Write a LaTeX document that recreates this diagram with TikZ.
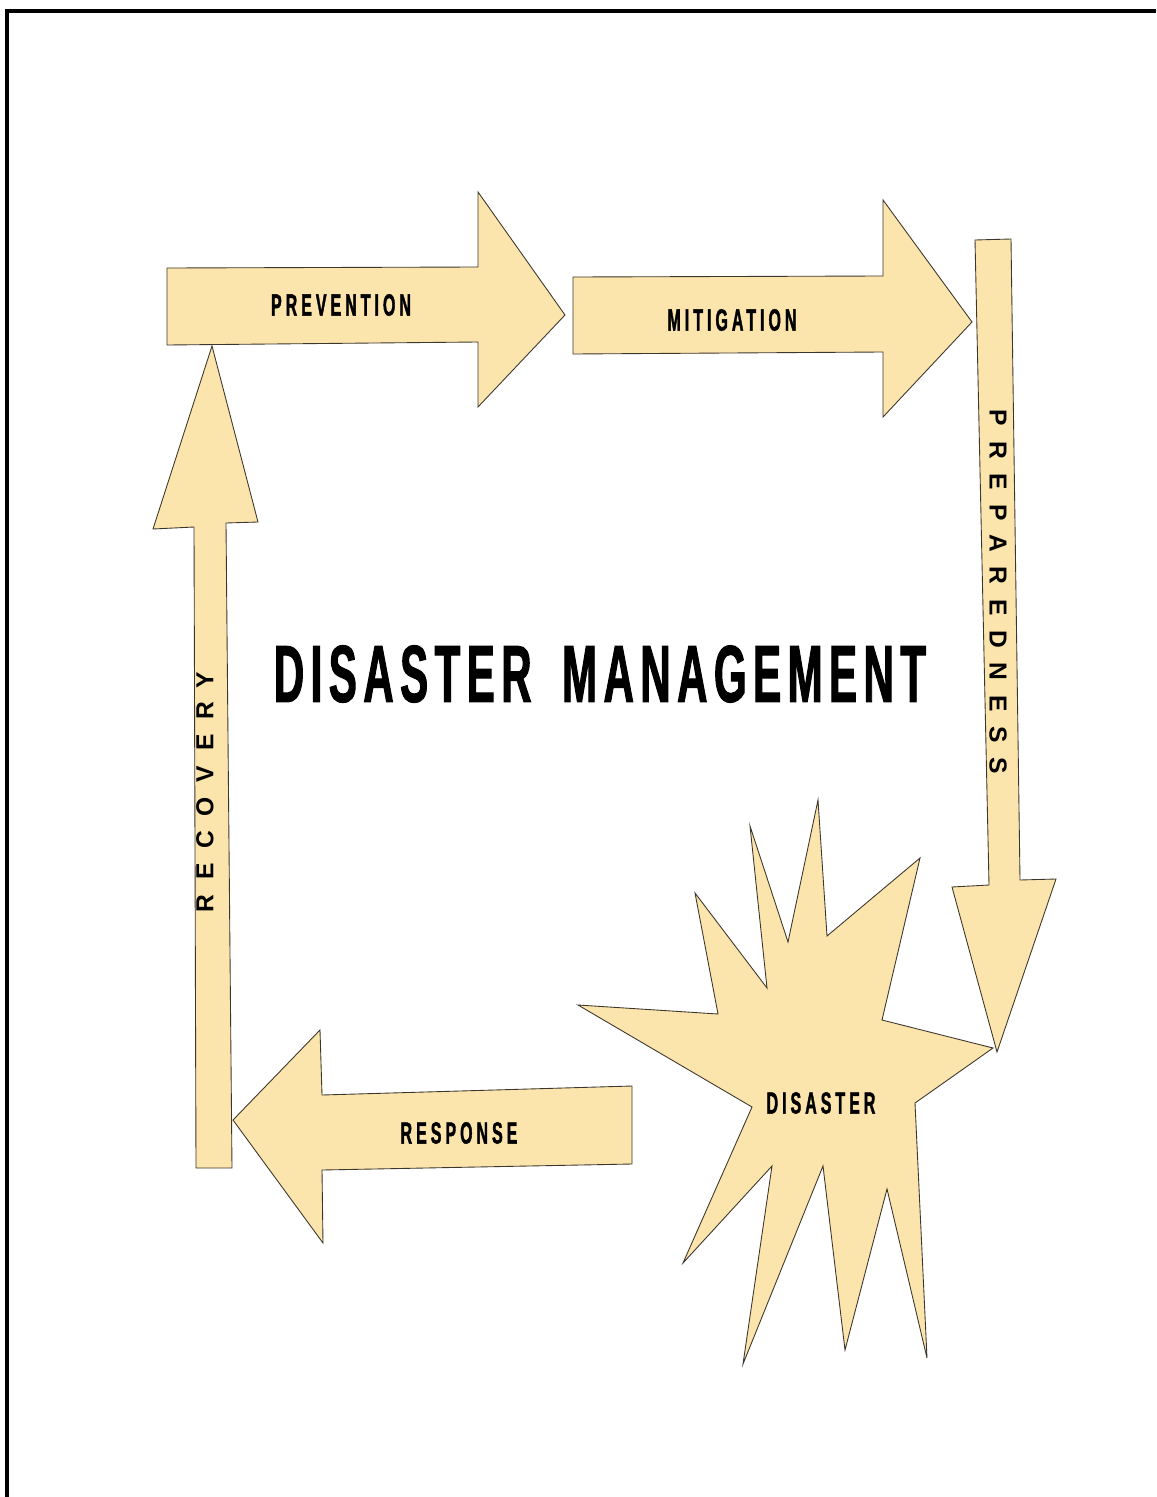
\documentclass[tikz,border=0pt]{standalone}
\usepackage{fontspec}
\newfontfamily\narrowfont[FakeStretch=0.52, FakeBold=1.2]{Liberation Sans}
\newfontfamily\plainfont{Liberation Sans}
\definecolor{armfill}{RGB}{252,229,172}
\definecolor{armline}{RGB}{60,55,45}

\begin{document}
\begin{tikzpicture}[x=0.02cm, y=-0.02cm,
	arm/.style={fill=armfill, draw=armline, line width=0.5pt, line join=miter},
	lbl/.style={inner sep=0pt, font=\narrowfont\bfseries\fontsize{17.5}{20}\selectfont\addfontfeatures{LetterSpace=13}},
	vlbl/.style={inner sep=0pt, font=\plainfont\bfseries\fontsize{14}{16}\selectfont\addfontfeatures{LetterSpace=60}},
	headline/.style={inner sep=0pt, font=\narrowfont\bfseries\fontsize{46}{50}\selectfont\addfontfeatures{LetterSpace=8}}]
	\useasboundingbox (0,0) rectangle (1156,1497);
	% page frame (top and left only)
	\draw[line width=1.8pt] (7,1497) -- (7,11) -- (1156,11);
	% Arms of the cycle:
	\draw[arm] (167,268) -- (478,267) -- (478,192) -- (565,315) -- (478,407) -- (478,342) -- (167,345) -- cycle;
	\draw[arm] (573,277) -- (883,276) -- (883,200) -- (972,322) -- (883,417) -- (883,352) -- (573,354) -- cycle;
	\draw[arm] (196,1168) -- (232,1168) -- (226,523) -- (258,522) -- (212,346) -- (153,529) -- (194,527) -- cycle;
	\draw[arm] (632,1086) -- (632,1164) -- (322,1170) -- (323,1243) -- (233,1120) -- (320,1030) -- (322,1095) -- cycle;
	% burst
	\draw[arm] (818,800) -- (827,936) -- (920,858) -- (882,1020) -- (993,1048) -- (915,1103) -- (927,1358) -- (887,1189) -- (845,1350) -- (823,1166) -- (743,1364) -- (772,1166) -- (683,1263) -- (752,1107) -- (578,1005) -- (718,1014) -- (695,893) -- (767,988) -- (750,826) -- (788,942) -- cycle;
	\draw[arm] (975,240) -- (1011,239) -- (1020,880) -- (1056,879) -- (997,1052) -- (952,887) -- (989,885) -- cycle;
	% Labels:
	\node[lbl] (prevention) at (341,305) {PREVENTION};
	\node[lbl] (mitigation) at (732,320) {MITIGATION};
	\node[vlbl, rotate=-90] (preparedness) at (998,592) {PREPAREDNESS};
	\node[vlbl, rotate=90] (recovery) at (205,792) {RECOVERY};
	\node[lbl] (response) at (459,1133) {RESPONSE};
	\node[lbl] (disaster) at (821,1103) {DISASTER};
	\node[headline] (title) at (600,674) {DISASTER\hspace{7pt} MANAGEMENT};
\end{tikzpicture}
\end{document}
